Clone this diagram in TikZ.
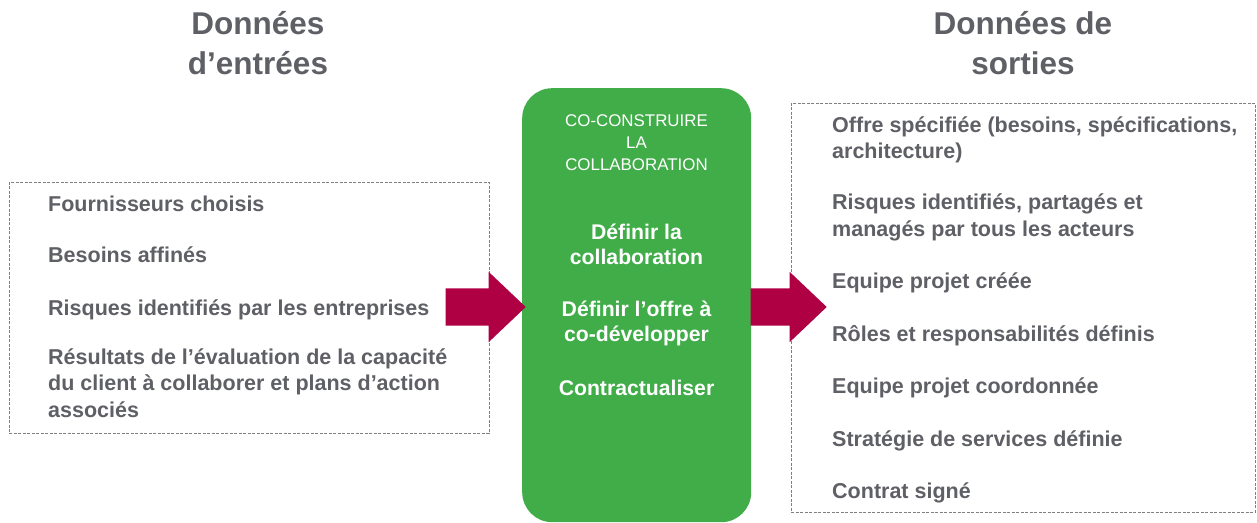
\documentclass[tikz,border=0pt]{standalone}
\usepackage{fontspec}
\setmainfont{Liberation Sans}
\usetikzlibrary{shapes.arrows}

\definecolor{textgray}{HTML}{5F6066}
\definecolor{boxgreen}{HTML}{41AD49}
\definecolor{arrowred}{HTML}{B00044}
\definecolor{dashgray}{HTML}{7F7F7F}

\begin{document}
\begin{tikzpicture}[x=1pt,y=-1pt,
    heading/.style={font=\bfseries\fontsize{31.5}{40}\selectfont,text=textgray,align=center,anchor=base,inner sep=0pt},
    item/.style={font=\bfseries\fontsize{21.5}{26.5}\selectfont,text=textgray,align=left,anchor=base west,inner sep=0pt},
    databox/.style={draw=dashgray,line width=0.8pt,dash pattern=on 3pt off 1.5pt,anchor=north west},
    task/.style={font=\bfseries\fontsize{21.2}{25}\selectfont,text=white,align=center,anchor=base,inner sep=0pt},
    bigarrow/.style={single arrow,fill=arrowred,inner xsep=0pt,inner ysep=18.5pt,
        single arrow head extend=16.5pt,single arrow tip angle=87,anchor=tip}]

\useasboundingbox (0,0) rectangle (1257,522);

% headings (anchored on the last line)
\node[heading] (inhead) at (258,74) {Données\\d’entrées};
\node[heading] (outhead) at (1023,74) {Données de\\sorties};

% dashed frames
\node[databox,minimum width=480pt,minimum height=251pt] (inbox) at (9,182) {};
\node[databox,minimum width=464pt,minimum height=409pt] (outbox) at (791,103) {};

% central process
\node[fill=boxgreen,rounded corners=30pt,minimum width=229pt,minimum height=434pt,anchor=north west] (green) at (522,88) {};
\node[font=\fontsize{16.9}{22}\selectfont,text=white,align=center,anchor=base,inner sep=0pt] (gtitle) at (636.5,170) {CO-CONSTRUIRE\\LA\\COLLABORATION};
\node[task] (t1) at (636.5,264) {Définir la\\collaboration};
\node[task] (t2) at (636.5,341) {Définir l’offre à\\co-développer};
\node[task] (t3) at (636.5,395) {Contractualiser};

% inputs
\node[item] (in1) at (48,211) {Fournisseurs choisis};
\node[item] (in2) at (48,262) {Besoins affinés};
\node[item] (in3) at (48,315) {Risques identifiés par les entreprises};
\node[item] (in4) at (48,417) {Résultats de l’évaluation de la capacité\\du client à collaborer et plans d’action\\associés};

% outputs
\node[item] (out1) at (832,158.5) {Offre spécifiée (besoins, spécifications,\\architecture)};
\node[item] (out2) at (832,236) {Risques identifiés, partagés et\\managés par tous les acteurs};
\node[item] (out3) at (832,288) {Equipe projet créée};
\node[item] (out4) at (832,341) {Rôles et responsabilités définis};
\node[item] (out5) at (832,393) {Equipe projet coordonnée};
\node[item] (out6) at (832,446) {Stratégie de services définie};
\node[item] (out7) at (832,498) {Contrat signé};

% arrows
\node[bigarrow,minimum height=80pt] (inarrow) at (526,307) {};
\node[bigarrow,minimum height=76pt] (outarrow) at (827,307) {};
\end{tikzpicture}
\end{document}
